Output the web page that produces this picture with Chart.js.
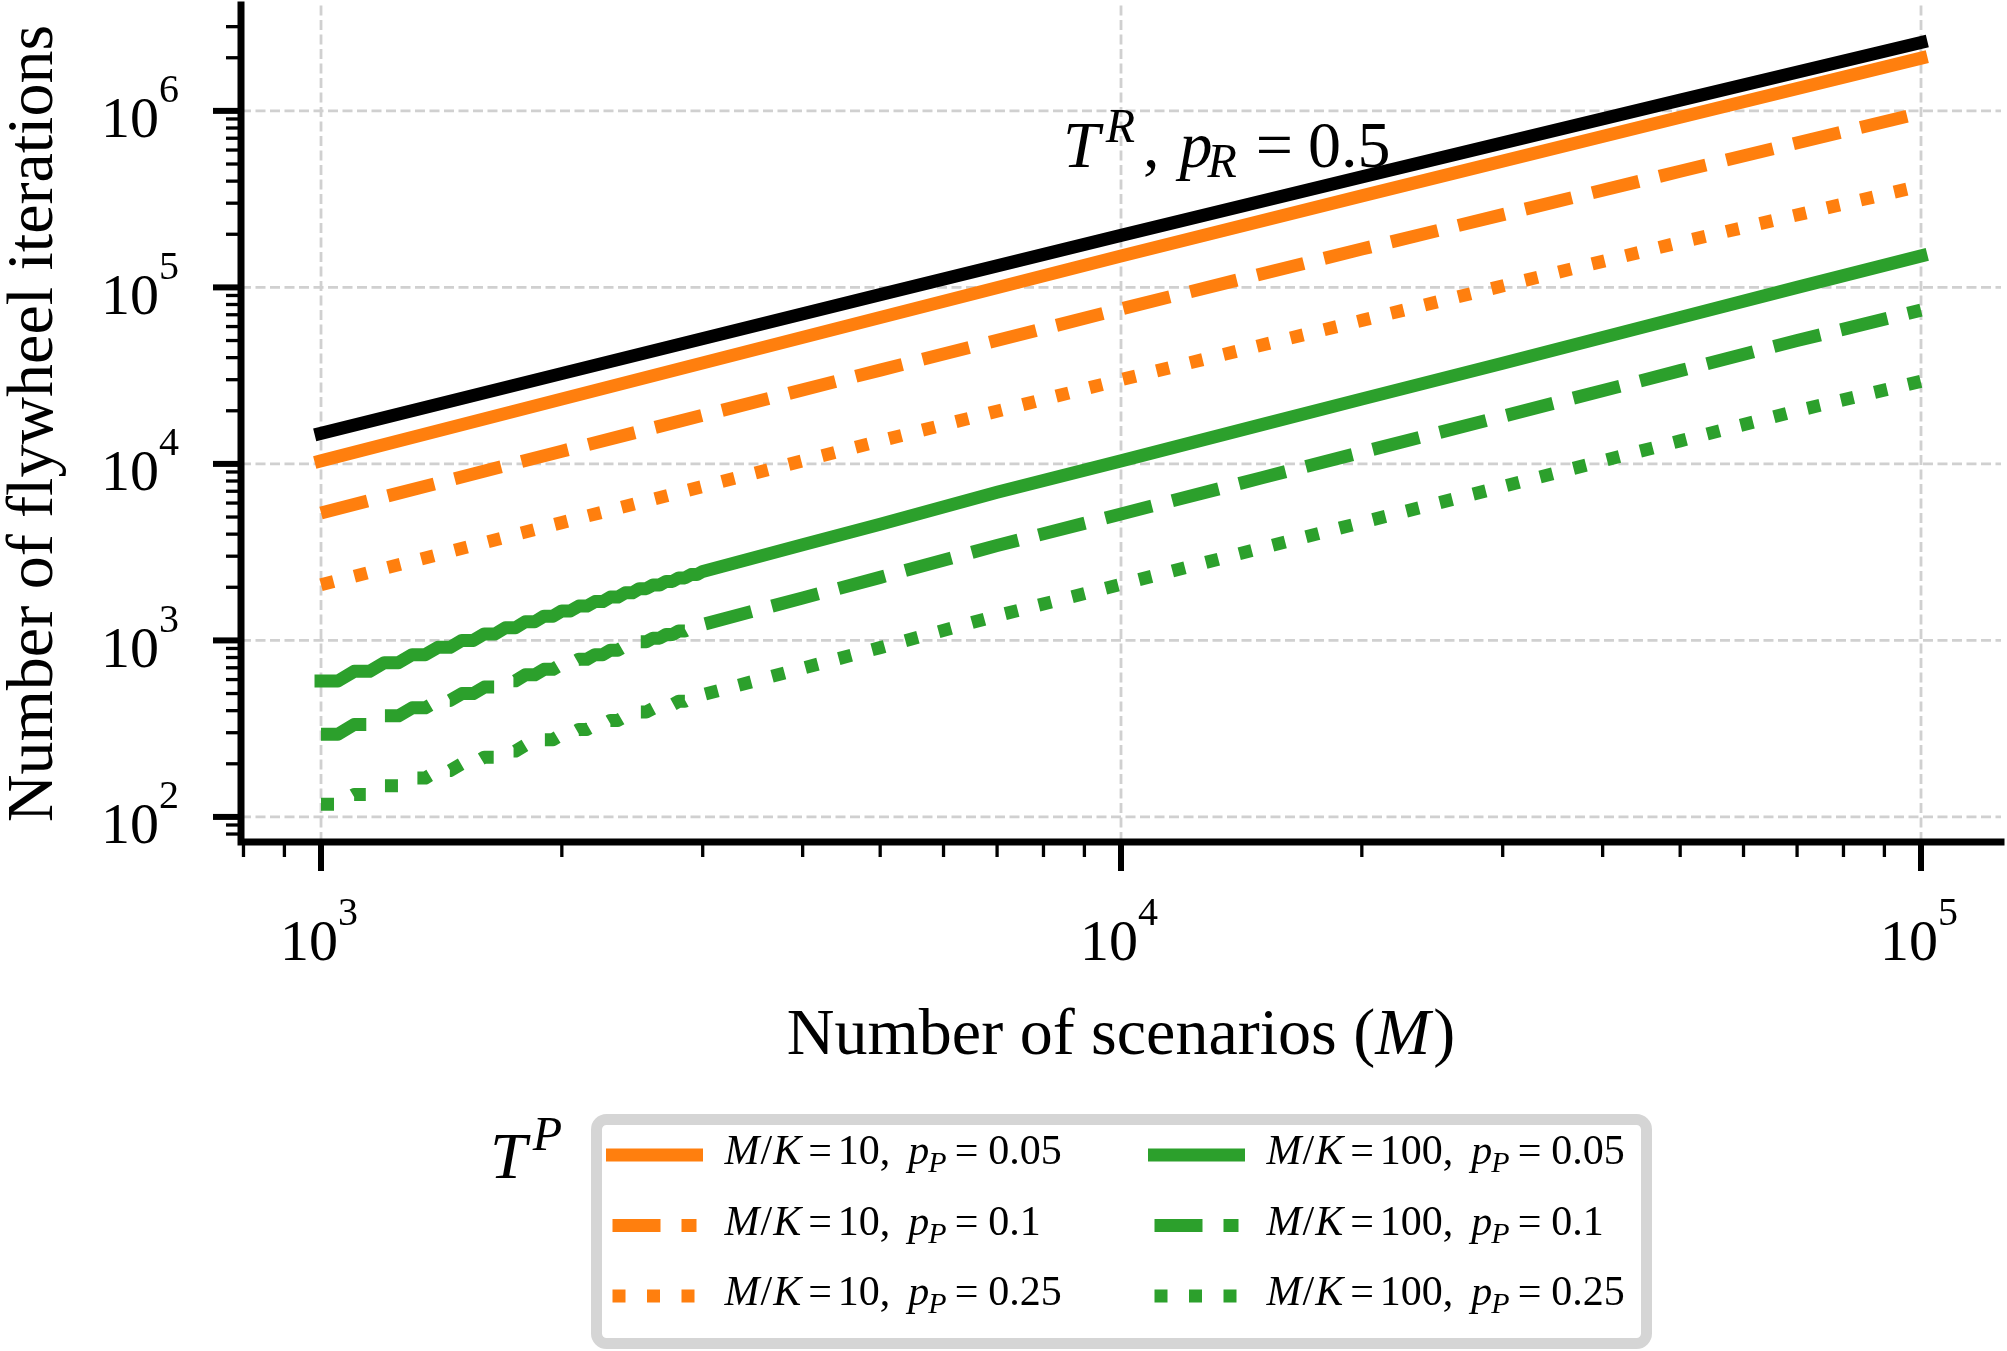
<!DOCTYPE html>
<html lang="en">
<head>
<meta charset="UTF-8">
<title>Flywheel iterations</title>
<script src="https://cdn.jsdelivr.net/npm/chart.js@4.4.1/dist/chart.umd.min.js"></script>
<style>
    html, body {margin: 0; padding: 0; background: white}
    canvas {display: block}
</style>
</head>
<body>
<canvas id="chart" width="2007" height="1351"></canvas>
<script>

// number of scenarios M for the smooth curves
const mCoarse = [1000, 2000, 5000, 10000, 20000, 50000, 100000];
const tR = [14900, 32500, 91000, 197000, 423000, 1150000, 2440000];
const orange005 = [10400, 23300, 67500, 150700, 330000, 920000, 1990000];
const orange01 = [5270, 11800, 34000, 75500, 165000, 455000, 975000];
const orange025 = [2065, 4650, 13500, 30000, 65000, 180000, 376000];

// green curves step with K = M/100 at small M
const mFine = [1000, 1050, 1100, 1150, 1200, 1250, 1300, 1350, 1400, 1450, 1500, 1550, 1600, 1650, 1700, 1750,
    1800, 1850, 1900, 1950, 2000, 2050, 2100, 2150, 2200, 2250, 2300, 2350, 2400, 2450, 2500, 2550,
    2600, 2650, 2700, 2750, 2800, 2850, 2900, 2950, 3000,
    4000, 5000, 7000, 10000, 15000, 20000, 30000, 50000, 70000, 100000];
const green005 = [589, 589, 668, 668, 748, 748, 830, 830, 914, 914, 1000, 1000, 1088, 1088, 1180, 1180,
    1275, 1275, 1372, 1372, 1470, 1470, 1565, 1565, 1660, 1660, 1760, 1760, 1860, 1860, 1965, 1965,
    2060, 2060, 2160, 2160, 2260, 2260, 2360, 2360, 2460,
    3480, 4550, 6900, 10400, 16700, 23300, 37200, 67500, 100000, 150700];
const green01 = [294, 294, 334, 334, 374, 374, 415, 415, 457, 457, 500, 500, 544, 544, 590, 590,
    638, 638, 686, 686, 735, 735, 782, 782, 830, 830, 880, 880, 930, 930, 982, 982,
    1030, 1030, 1080, 1080, 1130, 1130, 1180, 1180, 1230,
    1740, 2275, 3450, 5200, 8350, 11650, 18600, 33750, 50000, 74300];
const green025 = [118, 118, 134, 134, 150, 150, 166, 166, 183, 183, 200, 200, 218, 218, 236, 236,
    255, 255, 274, 274, 294, 294, 313, 313, 332, 332, 352, 352, 372, 372, 393, 393,
    412, 412, 432, 432, 452, 452, 472, 472, 492,
    696, 910, 1380, 2080, 3340, 4660, 7440, 13500, 20000, 29400];

const xMajor = [1e3, 1e4, 1e5];
const yMajor = [1e2, 1e3, 1e4, 1e5, 1e6];

const ORANGE = '#ff7f0e', GREEN = '#2ca02c';
const SOLID = [], DASHED = [48, 21], DOTTED = [13, 21.5];
const FONT = '"Liberation Serif", "Times New Roman", serif';

function series(label, xs, ys, color, dash, legend) {
    return {
        label: label,
        data: xs.map((m, i) => ({x: m, y: ys[i]})),
        borderColor: color,
        borderWidth: 13,
        borderDash: dash,
        borderCapStyle: dash.length ? 'butt' : 'square',
        borderJoinStyle: 'round',
        pointRadius: 0,
        tension: 0,
        fill: false,
        legendText: legend
    };
}

function font(size, italic) {
    return (italic ? 'italic ' : '') + size + 'px ' + FONT;
}

// a run of text: t, size, italic, baseline shift, gap before
function R(t, s, i, dy, g) {
    return {t: t, s: s, i: !!i, dy: dy || 0, g: g || 0};
}

function drawRich(ctx, x, y, runs, align) {
    let total = 0;
    const widths = runs.map(r => {
        ctx.font = font(r.s, r.i);
        const w = ctx.measureText(r.t).width;
        total += w + r.g;
        return w;
    });
    let cx = align === 'center' ? x - total / 2 : align === 'right' ? x - total : x;
    ctx.textAlign = 'left';
    ctx.textBaseline = 'alphabetic';
    runs.forEach((r, k) => {
        cx += r.g;
        ctx.font = font(r.s, r.i);
        ctx.fillText(r.t, cx, y + r.dy);
        cx += widths[k];
    });
}

function power(v) {
    return [R('10', 58), R(String(Math.round(Math.log10(v))), 40, false, -35)];
}

function minors(lo, hi) {
    const out = [];
    for (let e = Math.floor(Math.log10(lo)); e <= Math.ceil(Math.log10(hi)); e++) {
        for (let k = 2; k <= 9; k++) {
            const v = k * Math.pow(10, e);
            if (v >= lo && v <= hi) out.push(v);
        }
    }
    return out;
}

const axesPlugin = {
    id: 'mplAxes',
    beforeDatasetsDraw(chart) {
        const {ctx, chartArea: a, scales: {x, y}} = chart;
        ctx.save();
        ctx.strokeStyle = '#d0d0d0';
        ctx.lineWidth = 2.8;
        ctx.setLineDash([10, 4.5]);
        xMajor.forEach(v => {
            const px = x.getPixelForValue(v);
            ctx.beginPath(); ctx.moveTo(px, a.bottom); ctx.lineTo(px, a.top); ctx.stroke();
        });
        yMajor.forEach(v => {
            const py = y.getPixelForValue(v);
            ctx.beginPath(); ctx.moveTo(a.left, py); ctx.lineTo(a.right, py); ctx.stroke();
        });
        ctx.restore();
    },
    afterDatasetsDraw(chart) {
        const {ctx, chartArea: a, scales: {x, y}} = chart;
        ctx.save();
        ctx.strokeStyle = '#000';
        ctx.fillStyle = '#000';

        // spines
        ctx.lineWidth = 7;
        ctx.lineCap = 'square';
        ctx.beginPath();
        ctx.moveTo(a.left, a.top); ctx.lineTo(a.left, a.bottom); ctx.lineTo(a.right, a.bottom);
        ctx.stroke();

        // ticks
        ctx.lineCap = 'butt';
        const tick = (vals, w, len) => {
            ctx.lineWidth = w;
            vals.forEach(v => {
                const px = x.getPixelForValue(v);
                if (px < a.left - 1 || px > a.right + 1) return;
                ctx.beginPath(); ctx.moveTo(px, a.bottom); ctx.lineTo(px, a.bottom + len); ctx.stroke();
            });
        };
        const ytick = (vals, w, len) => {
            ctx.lineWidth = w;
            vals.forEach(v => {
                const py = y.getPixelForValue(v);
                ctx.beginPath(); ctx.moveTo(a.left, py); ctx.lineTo(a.left - len, py); ctx.stroke();
            });
        };
        tick(minors(x.min, x.max), 3.3, 15);
        tick(xMajor, 6, 29);
        ytick(minors(y.min, y.max), 3.3, 15);
        ytick(yMajor, 6, 28);

        // tick labels
        xMajor.forEach(v => drawRich(ctx, x.getPixelForValue(v) - 2, 960, power(v), 'center'));
        yMajor.forEach(v => drawRich(ctx, 179, y.getPixelForValue(v) + 26.5, power(v), 'right'));

        // axis titles
        drawRich(ctx, (a.left + a.right) / 2, 1054,
            [R('Number of scenarios (', 66), R('M', 66, true), R(')', 66, false, 0, 3)], 'center');
        ctx.save();
        ctx.translate(52, (a.top + a.bottom) / 2);
        ctx.rotate(-Math.PI / 2);
        drawRich(ctx, 0, 0, [R('Number of flywheel iterations', 66)], 'center');
        ctx.restore();

        // T^R annotation
        drawRich(ctx, 1063, 167, [R('T', 66, true), R('R', 48, true, -25, 6), R(',', 66, false, 0, 8),
            R('p', 66, true, 0, 20), R('R', 48, true, 10, -5), R('=', 66, false, 0, 19), R('0.5', 66, false, 0, 15)]);

        // legend
        drawRich(ctx, 490, 1178, [R('T', 66, true), R('P', 48, true, -28, 6)]);
        ctx.lineWidth = 11;
        ctx.strokeStyle = '#d5d5d5';
        ctx.beginPath();
        ctx.roundRect(596.5, 1119.5, 1050, 224, 10);
        ctx.stroke();

        const items = chart.data.datasets.filter(d => d.legendText);
        items.forEach((d, i) => {
            const col = Math.floor(i / 3), row = i % 3;
            const ly = 1155 + row * 70.5;
            const x0 = 612.5 + col * 542;
            ctx.save();
            ctx.strokeStyle = d.borderColor;
            ctx.lineWidth = d.borderWidth;
            ctx.setLineDash(d.borderDash);
            ctx.lineCap = d.borderCapStyle;
            ctx.beginPath(); ctx.moveTo(x0, ly); ctx.lineTo(x0 + 84, ly); ctx.stroke();
            ctx.restore();
            const t = d.legendText, s = 42;
            drawRich(ctx, x0 + 112, ly + 9, [R('M', s, true), R('/', s, false, 0, 1), R('K', s, true, 0, 1),
                R('=', s, false, 0, 7), R(t.mk, s, false, 0, 6), R(',', s),
                R('p', s, true, 0, 18), R('P', 30, true, 8, -1), R('=', s, false, 0, 8), R(t.pp, s, false, 0, 10)]);
        });
        ctx.restore();
    }
};

const chart = new Chart(document.getElementById('chart'), {
    type: 'line',
    data: {
        datasets: [
            series('T^R, p_R = 0.5', mCoarse, tR, '#000000', SOLID, null),
            series('M/K = 10, p_P = 0.05', mCoarse, orange005, ORANGE, SOLID, {mk: '10', pp: '0.05'}),
            series('M/K = 10, p_P = 0.1', mCoarse, orange01, ORANGE, DASHED, {mk: '10', pp: '0.1'}),
            series('M/K = 10, p_P = 0.25', mCoarse, orange025, ORANGE, DOTTED, {mk: '10', pp: '0.25'}),
            series('M/K = 100, p_P = 0.05', mFine, green005, GREEN, SOLID, {mk: '100', pp: '0.05'}),
            series('M/K = 100, p_P = 0.1', mFine, green01, GREEN, DASHED, {mk: '100', pp: '0.1'}),
            series('M/K = 100, p_P = 0.25', mFine, green025, GREEN, DOTTED, {mk: '100', pp: '0.25'})
        ]
    },
    options: {
        responsive: false,
        animation: false,
        events: [],
        layout: {padding: {left: 241, right: 6, top: 5, bottom: 509}},
        plugins: {legend: {display: false}, tooltip: {enabled: false}},
        scales: {
            x: {type: 'logarithmic', min: 794.3, max: 125893, display: false},
            y: {type: 'logarithmic', min: 72.1, max: 3.98e6, display: false}
        }
    },
    plugins: [axesPlugin]
});

</script>
</body>
</html>
